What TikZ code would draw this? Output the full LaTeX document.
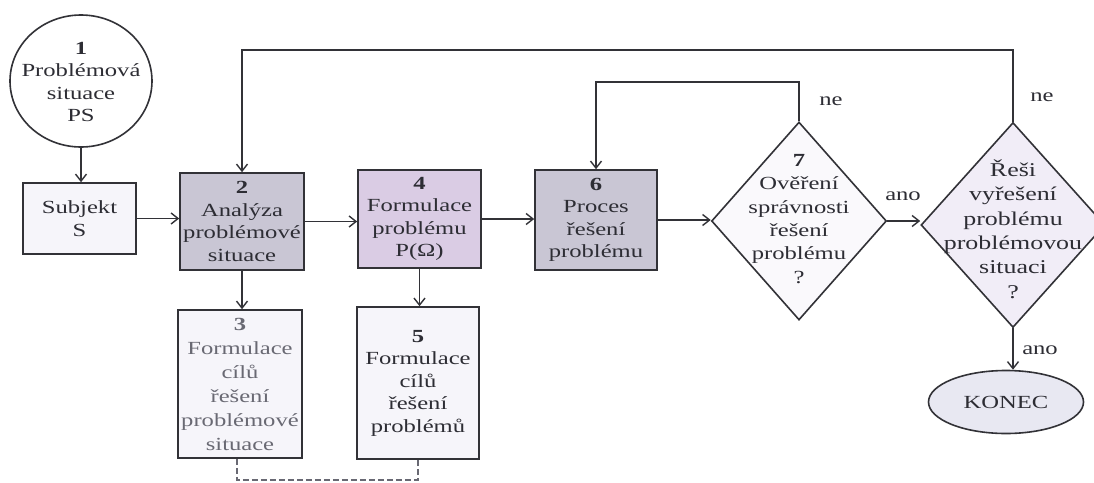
\documentclass[tikz,border=0pt]{standalone}
\usepackage{fontspec}
\setmainfont{Liberation Serif}[FakeStretch=1.33]
\usetikzlibrary{shapes.geometric,arrows.meta}
\definecolor{ln}{RGB}{50,50,55}
\definecolor{tx}{RGB}{45,45,52}
\definecolor{txl}{RGB}{105,105,115}
\definecolor{fdark}{RGB}{201,198,212}
\definecolor{fpink}{RGB}{218,204,228}
\definecolor{flight}{RGB}{246,245,250}
\definecolor{fd7}{RGB}{250,249,252}
\definecolor{fd8}{RGB}{241,237,247}
\definecolor{fend}{RGB}{232,232,242}
\tikzset{
  box/.style={draw=ln, line width=1.6pt, rectangle, inner sep=0pt, text=tx, align=center,
    font=\fontsize{18.5}{22.5}\selectfont},
  shapebox/.style={draw=ln, line width=1.6pt, inner sep=0pt},
  txt/.style={text=tx, align=center, inner sep=0pt, font=\fontsize{18.5}{22.5}\selectfont},
  arr/.style={draw=ln, line width=1.6pt, -{Straight Barb[length=7pt,width=11pt,line width=1.4pt]}},
  lbl/.style={text=tx, inner sep=0pt, font=\fontsize{18.5}{22.5}\selectfont},
  dashline/.style={draw=txl, line width=1.1pt, dash pattern=on 6pt off 3pt}
}
\begin{document}
\begin{tikzpicture}[x=1pt,y=-1pt]
\useasboundingbox (0,0) rectangle (1094,482);
\fill[white] (0,0) rectangle (1094,482);
% circle 1
\node[shapebox, ellipse, minimum width=142, minimum height=132, fill=white] (c1) at (81,81) {};
\node[txt] (c1t) at (81,82) {\textbf{1}\\Problémová\\situace\\PS};
% Subjekt
\node[box, fill=flight, minimum width=113, minimum height=71] (S) at (79.5,218.5) {Subjekt\\S};
% box 2
\node[box, fill=fdark, minimum width=124, minimum height=97] (B2) at (242,221.5) {\textbf{2}\\Analýza\\problémové\\situace};
% box 3
\node[box, fill=flight, text=txl, minimum width=124, minimum height=148,
  font=\fontsize{18.5}{24}\selectfont] (B3) at (240,384) {\textbf{3}\\Formulace\\cílů\\řešení\\problémové\\situace};
% box 4
\node[box, fill=fpink, minimum width=123, minimum height=98] (B4) at (419.5,219) {\textbf{4}\\Formulace\\problému\\P(Ω)};
% box 5
\node[box, fill=flight, minimum width=122, minimum height=152] (B5) at (418,383) {\textbf{5}\\Formulace\\cílů\\řešení\\problémů};
% box 6
\node[box, fill=fdark, minimum width=122, minimum height=100] (B6) at (596,220) {\textbf{6}\\Proces\\řešení\\problému};
% diamond 7
\node[shapebox, diamond, fill=fd7, minimum width=175, minimum height=198] (D7) at (799,221) {};
\node[txt, font=\fontsize{18.5}{23.3}\selectfont] (D7t) at (799,219) {\textbf{7}\\Ověření\\správnosti\\řešení\\problému\\?};
% diamond 8
\node[shapebox, diamond, fill=fd8, minimum width=184, minimum height=205] (D8) at (1013,225) {};
\node[txt, font=\fontsize{19.5}{24.4}\selectfont] (D8t) at (1013,229) {Řeši\\vyřešení\\problému\\problémovou\\situaci\\?};
% KONEC
\node[shapebox, ellipse, fill=fend, minimum width=155, minimum height=63] (K) at (1006,402) {};
\node[txt] (Kt) at (K) {KONEC};
% helper coordinates
\coordinate (top8) at (0,50);
\coordinate (top7) at (0,82);
\coordinate (dash) at (0,480);
% connectors
\draw[arr] (c1.south) -- (c1.south |- S.north);
\draw[arr] (S.east) -- (S.east -| B2.west);
\draw[arr] (B2.south) -- (B2.south |- B3.north);
\draw[arr] (B2.east) -- (B2.east -| B4.west);
\draw[arr] (B4.south) -- (B4.south |- B5.north);
\draw[arr] (B4.east) -- (B4.east -| B6.west);
\draw[arr] (B6.east) -- (B6.east -| D7.west);
\draw[arr] (D7.east) -- (D7.east -| D8.west);
\draw[arr] (D7.north) -- (D7.north |- top7) -| (B6.north);
\draw[arr] (D8.north) -- (D8.north |- top8) -| (B2.north);
\draw[arr] (D8.south) -- (D8.south |- K.north);
\draw[dashline] ([xshift=-3pt]B3.south) -- ([xshift=-3pt]B3.south |- dash) -- (B5.south |- dash) -- (B5.south);
% labels
\node[lbl] (ne7) at (831,101) {ne};
\node[lbl] (ne8) at (1042,97) {ne};
\node[lbl] (ano7) at (903,196) {ano};
\node[lbl] (ano8) at (1040,350) {ano};
\end{tikzpicture}
\end{document}
